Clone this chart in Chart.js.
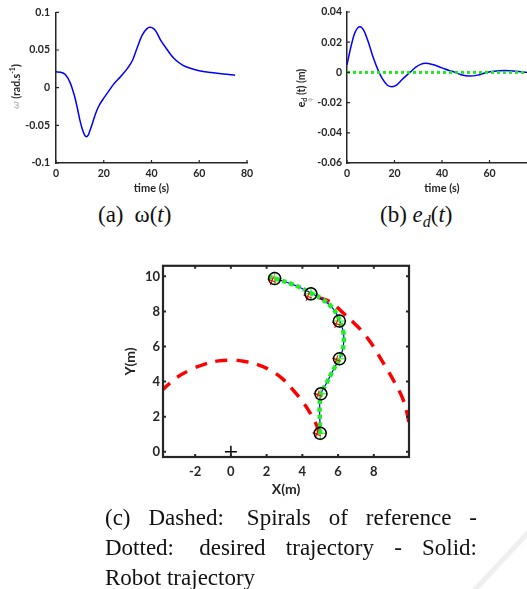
<!DOCTYPE html>
<html>
<head>
<meta charset="utf-8">
<script src="https://cdn.jsdelivr.net/npm/chart.js@4.4.1/dist/chart.umd.min.js"></script>
<style>
    html, body { margin: 0; padding: 0; background: #fff; }
    body { width: 527px; height: 589px; overflow: hidden; position: relative; }
    canvas { position: absolute; }
    #chartA { left: 0; top: 0; }
    #chartB { left: 262px; top: 0; }
    #chartC { left: 120px; top: 255px; }
    .cap {
        position: absolute;
        font-family: "Liberation Serif", "Times New Roman", serif;
        font-size: 23px;
        line-height: 30px;
        color: #111;
        white-space: nowrap;
    }
    .cap sub { font-size: 16px; line-height: 0; vertical-align: -5px; }
    .jl { text-align: justify; text-align-last: justify; }
    .gap { margin-left: 5px; }
    .mark {
        position: absolute; left: 440px; top: 555px; width: 130px; height: 5px;
        background: #efefef; transform: rotate(-47deg);
    }
</style>
</head>
<body>
<canvas id="chartA" width="262" height="200"></canvas>
<canvas id="chartB" width="300" height="200"></canvas>
<canvas id="chartC" width="300" height="250"></canvas>

<div class="cap" style="left:98px; top:200px;">(a)<span style="margin-left:11px">ω(<i>t</i>)</span></div>
<div class="cap" style="left:380px; top:200px;">(b) <i>e<sub>d</sub></i>(<i>t</i>)</div>
<div class="cap" style="left:105px; top:503px; width:372px; white-space:normal;">
    <div class="jl">(c) Dashed: <span class="gap">Spirals</span> of reference -</div>
    <div class="jl">Dotted: <span class="gap">desired</span> trajectory - Solid:</div>
    <div>Robot trajectory</div>
</div>
<div class="mark"></div>

<script>
// ---- data ----
const timeTicks = [0, 20, 40, 60, 80];
const omegaTicks = [-0.1, -0.05, 0, 0.05, 0.1];
const edTicks = [-0.06, -0.04, -0.02, 0, 0.02, 0.04];
const xTicksC = [-2, 0, 2, 4, 6, 8];
const yTicksC = [0, 2, 4, 6, 8, 10];

// (a) angular velocity
const omegaTime = [0, 2, 4, 6, 7, 8, 9, 10, 11, 12, 12.7, 13.5, 14, 15, 16, 17, 18, 20, 22, 24, 26, 28, 30, 32, 34, 36, 38, 39.4, 41, 42, 44, 46, 48, 50, 53, 56, 60, 65, 70, 75];
const omegaValues = [0.021, 0.0205, 0.017, 0.006, -0.003, -0.014, -0.028, -0.043, -0.055, -0.063, -0.065, -0.063, -0.059, -0.05, -0.04, -0.031, -0.024, -0.014, -0.005, 0.004, 0.011, 0.018, 0.026, 0.036, 0.053, 0.069, 0.078, 0.080, 0.078, 0.074, 0.062, 0.053, 0.044, 0.037, 0.030, 0.026, 0.0225, 0.020, 0.018, 0.0165];

// (b) distance error and its zero reference
const edTime = [0, 1.5, 3, 4.5, 5.5, 7, 9, 11, 13.5, 15, 17, 19, 21, 23, 26.5, 29, 31, 33, 36, 40, 43, 45.5, 48, 51.5, 55, 58.8, 62, 66.5, 70, 74, 78, 80];
const edValues = [0.005, 0.016, 0.025, 0.0295, 0.0303, 0.028, 0.020, 0.010, 0.0, -0.0045, -0.0085, -0.0095, -0.0082, -0.005, 0.0, 0.0035, 0.0053, 0.006, 0.0052, 0.003, 0.0013, 0.0, -0.0015, -0.0024, -0.0018, 0.0, 0.0008, 0.0012, 0.0009, 0.0002, -0.0003, -0.0004];
const edDesiredTime = [0, 80];
const edDesiredValues = [0, 0];

// (c) trajectories in the plane
const innerSpiralX = [-3.9, -3.1, -2.3, -1.5, -0.7, 0.0, 0.7, 1.5, 2.2, 2.9, 3.5, 4.05, 4.5, 4.8, 4.95];
const innerSpiralY = [3.45, 4.18, 4.65, 4.98, 5.18, 5.22, 5.16, 4.97, 4.65, 4.15, 3.5, 2.8, 2.1, 1.5, 1.0];
const outerSpiralX = [4.9, 5.57, 6.32, 6.97, 7.4, 7.81, 8.15, 8.47, 8.8, 9.12, 9.59, 9.87, 10.06];
const outerSpiralY = [8.8, 8.54, 7.88, 7.26, 6.8, 6.25, 5.72, 5.16, 4.6, 4.03, 3.1, 2.16, 1.0];
const desiredX = [5.0, 4.98, 4.97, 5.04, 5.35, 5.62, 5.86, 6.08, 6.25, 6.32, 6.3, 6.15, 5.95, 5.6, 5.1, 4.48, 3.9, 3.3, 2.7, 2.1];
const desiredY = [1.0, 1.8, 2.6, 3.3, 3.9, 4.45, 4.9, 5.3, 5.8, 6.3, 6.8, 7.3, 7.8, 8.3, 8.7, 9.05, 9.35, 9.6, 9.8, 10.0];
const robotX = [5.0, 4.98, 4.97, 5.04, 5.35, 5.62, 5.86, 6.08, 6.25, 6.32, 6.3, 6.15, 5.95, 5.6, 5.1, 4.48, 3.9, 3.3, 2.7, 2.45];
const robotY = [1.05, 1.8, 2.6, 3.3, 3.9, 4.45, 4.9, 5.3, 5.8, 6.3, 6.8, 7.3, 7.8, 8.3, 8.7, 9.05, 9.35, 9.6, 9.8, 9.88];
const waypointX = [5.0, 5.04, 6.08, 6.07, 4.48, 2.45];
const waypointY = [1.05, 3.3, 5.3, 7.45, 9.0, 9.88];
const robotMarkX = [4.8, 4.86, 5.9, 5.9, 4.3, 2.3];
const robotMarkY = [1.0, 3.25, 5.25, 7.3, 8.85, 9.75];
const originX = [0];
const originY = [0];

const INK = '#262626';

function pts(xs, ys) {
    return xs.map((x, i) => ({ x: x, y: ys[i] }));
}

function fixedTicks(values) {
    return function(scale) {
        scale.ticks = values.map(v => ({ value: v }));
    };
}

// short tick marks drawn inside the axes, like the original figure
const innerTicks = {
    id: 'innerTicks',
    afterDraw(chart, args, opts) {
        const ctx = chart.ctx;
        const a = chart.chartArea;
        const xs = chart.scales.x, ys = chart.scales.y;
        ctx.save();
        ctx.strokeStyle = INK;
        ctx.lineWidth = opts.width;
        ctx.beginPath();
        xs.ticks.forEach(t => {
            const px = xs.getPixelForValue(t.value);
            ctx.moveTo(px, a.bottom); ctx.lineTo(px, a.bottom - opts.len);
            if (opts.box) { ctx.moveTo(px, a.top); ctx.lineTo(px, a.top + opts.len); }
        });
        ys.ticks.forEach(t => {
            const py = ys.getPixelForValue(t.value);
            ctx.moveTo(a.left, py); ctx.lineTo(a.left + opts.len, py);
            if (opts.box) { ctx.moveTo(a.right, py); ctx.lineTo(a.right - opts.len, py); }
        });
        ctx.stroke();
        if (opts.box) {
            ctx.lineWidth = opts.boxWidth;
            ctx.strokeRect(a.left, a.top, a.right - a.left, a.bottom - a.top);
        }
        ctx.restore();
    }
};

// rotated y label made of several styled pieces (sub/superscripts)
const yLabel = {
    id: 'yLabel',
    afterDraw(chart, args, opts) {
        if (!opts.parts) return;
        const ctx = chart.ctx;
        ctx.save();
        ctx.translate(opts.x, opts.y);
        ctx.rotate(-Math.PI / 2);
        ctx.textBaseline = 'middle';
        let total = 0;
        opts.parts.forEach(p => {
            ctx.font = p.font;
            p.w = ctx.measureText(p.text).width;
            if (!p.noAdvance) total += p.w;
        });
        let x = -total / 2;
        let last = x;
        opts.parts.forEach(p => {
            ctx.font = p.font;
            ctx.fillStyle = p.color || INK;
            const px = p.noAdvance ? last : x;
            ctx.fillText(p.text, px, p.dy || 0);
            if (!p.noAdvance) { last = x; x += p.w; }
        });
        ctx.restore();
    }
};

function tickFont(size) {
    return { family: 'Lato', size: size, weight: 'bold' };
}

function timeScale(xHeight) {
    return {
        type: 'linear', min: 0, max: 80,
        afterBuildTicks: fixedTicks(timeTicks),
        afterFit: s => { s.height = xHeight; },
        grid: { display: false, drawTicks: false },
        border: { display: true, color: INK, width: 1.5 },
        ticks: { color: INK, font: tickFont(10.5), padding: 4, maxRotation: 0, callback: v => String(v) },
        title: { display: true, text: 'time (s)', color: INK, font: tickFont(11), padding: { top: 0, bottom: 5 } }
    };
}

function valueScale(min, max, values, width, pad) {
    return {
        type: 'linear', min: min, max: max,
        afterBuildTicks: fixedTicks(values),
        afterFit: s => { s.width = width; },
        grid: { display: false, drawTicks: false },
        border: { display: true, color: INK, width: 1.5 },
        ticks: { color: INK, font: tickFont(10.5), padding: pad, callback: v => String(v) },
        title: { display: false }
    };
}

const common = {
    responsive: false,
    animation: false,
    events: [],
    devicePixelRatio: 1
};

// (a) omega(t)
new Chart(document.getElementById('chartA'), {
    type: 'line',
    data: {
        datasets: [{
            data: pts(omegaTime, omegaValues),
            borderColor: '#0000ff', borderWidth: 1.5,
            pointRadius: 0, cubicInterpolationMode: 'monotone', fill: false
        }]
    },
    options: Object.assign({}, common, {
        layout: { padding: { top: 10, right: 15, left: 0, bottom: 0 } },
        scales: {
            x: timeScale(37),
            y: valueScale(-0.1, 0.1, omegaTicks, 56, 6)
        },
        plugins: {
            legend: { display: false },
            tooltip: { enabled: false },
            innerTicks: { len: 3, width: 1.2, box: false },
            yLabel: {
                x: 17, y: 86.5,
                parts: [
                    { text: 'ω', font: 'italic 9px "DejaVu Serif"', color: '#a0a0a0' },
                    { text: ' (rad.s', font: 'bold 10.5px Lato' },
                    { text: '-1', font: 'bold 7px Lato', dy: -4 },
                    { text: ')', font: 'bold 10.5px Lato' }
                ]
            }
        }
    }),
    plugins: [innerTicks, yLabel]
});

// (b) e_d(t)
new Chart(document.getElementById('chartB'), {
    type: 'line',
    data: {
        datasets: [{
            data: pts(edDesiredTime, edDesiredValues),
            borderColor: '#1ee81e', borderWidth: 3, borderDash: [3, 3],
            pointRadius: 0, fill: false, order: 0
        }, {
            data: pts(edTime, edValues),
            borderColor: '#0000ff', borderWidth: 1.5,
            pointRadius: 0, cubicInterpolationMode: 'monotone', fill: false, order: 1
        }]
    },
    options: Object.assign({}, common, {
        layout: { padding: { top: 12, right: 25, left: 0, bottom: 0 } },
        scales: {
            x: timeScale(37),
            y: valueScale(-0.06, 0.04, edTicks, 85, 5)
        },
        plugins: {
            legend: { display: false },
            tooltip: { enabled: false },
            innerTicks: { len: 3, width: 1.2, box: false },
            yLabel: {
                x: 40, y: 88,
                parts: [
                    { text: 'e', font: 'bold 10.5px Lato' },
                    { text: 'd', font: 'bold 7px Lato', dy: 3 },
                    { text: 'ϕ', font: '6px "DejaVu Sans"', color: '#b0b0b0', dy: 8, noAdvance: true },
                    { text: ' (t) (m)', font: 'bold 10.5px Lato' }
                ]
            }
        }
    }),
    plugins: [innerTicks, yLabel]
});

// (c) trajectories
new Chart(document.getElementById('chartC'), {
    type: 'scatter',
    data: {
        datasets: [{
            // black circles at the sample poses
            data: pts(waypointX, waypointY),
            pointStyle: 'circle', pointRadius: 6, borderColor: '#000', borderWidth: 1.5,
            backgroundColor: 'rgba(0,0,0,0)', order: 0
        }, {
            // origin marker
            data: pts(originX, originY),
            pointStyle: 'cross', pointRadius: 6, borderColor: '#000', borderWidth: 1.5, order: 0
        }, {
            // robot orientation markers
            data: pts(robotMarkX, robotMarkY),
            pointStyle: 'cross', pointRadius: 4.5, pointRotation: 20,
            borderColor: '#ff0000', borderWidth: 1.1, order: 1
        }, {
            // desired pose markers
            data: pts(waypointX, waypointY),
            pointStyle: 'cross', pointRadius: 7, borderColor: '#22ee22', borderWidth: 1, order: 2
        }, {
            // desired trajectory (dotted)
            data: pts(desiredX, desiredY), showLine: true,
            borderColor: '#22ee22', borderWidth: 4.5, borderDash: [4.5, 3],
            pointRadius: 0, tension: 0.4, fill: false, order: 3
        }, {
            // robot trajectory (solid)
            data: pts(robotX, robotY), showLine: true,
            borderColor: '#0000ff', borderWidth: 1.2,
            pointRadius: 0, tension: 0.4, fill: false, order: 4
        }, {
            // reference spirals (dashed)
            data: pts(innerSpiralX, innerSpiralY), showLine: true,
            borderColor: '#ff0000', borderWidth: 3.5, borderDash: [12, 9],
            pointRadius: 0, tension: 0.4, fill: false, clip: 0, order: 5
        }, {
            data: pts(outerSpiralX, outerSpiralY), showLine: true,
            borderColor: '#ff0000', borderWidth: 3.5, borderDash: [12, 9],
            pointRadius: 0, tension: 0.4, fill: false, clip: 0, order: 5
        }]
    },
    options: Object.assign({}, common, {
        layout: { padding: { top: 9, right: 11, left: 0, bottom: 0 } },
        scales: {
            x: {
                type: 'linear', min: -3.8, max: 9.97,
                afterBuildTicks: fixedTicks(xTicksC),
                afterFit: s => { s.height = 48; },
                grid: { display: false, drawTicks: false },
                border: { display: false },
                ticks: { color: INK, font: tickFont(13), padding: 7, maxRotation: 0, callback: v => String(v) },
                title: { display: true, text: 'X(m)', color: INK, font: tickFont(14), padding: { top: 0, bottom: 7 } }
            },
            y: {
                type: 'linear', min: -0.3, max: 10.6,
                afterBuildTicks: fixedTicks(yTicksC),
                afterFit: s => { s.width = 43; },
                grid: { display: false, drawTicks: false },
                border: { display: false },
                ticks: { color: INK, font: tickFont(13), padding: 3, callback: v => String(v) },
                title: { display: true, text: 'Y(m)', color: INK, font: tickFont(14), padding: { top: 2, bottom: 0 } }
            }
        },
        plugins: {
            legend: { display: false },
            tooltip: { enabled: false },
            innerTicks: { len: 3, width: 2, box: true, boxWidth: 2.2 }
        }
    }),
    plugins: [innerTicks]
});
</script>
</body>
</html>
